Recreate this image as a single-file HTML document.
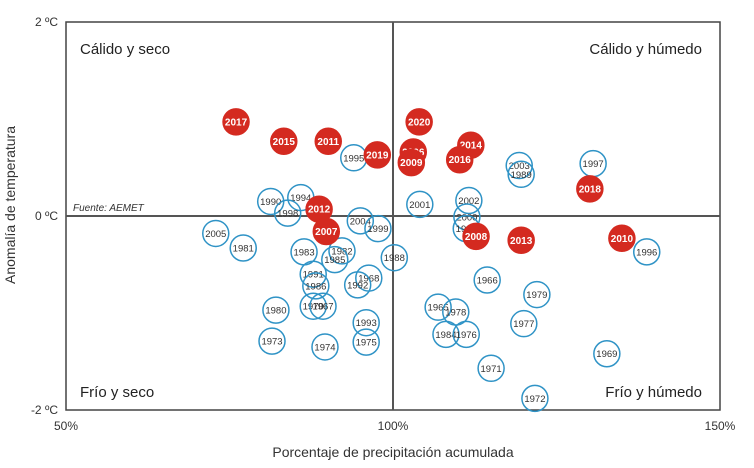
<!DOCTYPE html>
<html><head><meta charset="utf-8"><style>
body{margin:0;background:#fff;}
svg text{font-family:"Liberation Sans",sans-serif;}
</style></head><body>
<svg id="c" width="754" height="463">
<rect x="66" y="22" width="654" height="388" fill="none" stroke="#444" stroke-width="1.5"/>
<g id="marks"></g>
<text x="80" y="54" font-size="15" fill="#222">Cálido y seco</text>
<text x="702" y="54" font-size="15" fill="#222" text-anchor="end">Cálido y húmedo</text>
<text x="80" y="397" font-size="15" fill="#222">Frío y seco</text>
<text x="702" y="397" font-size="15" fill="#222" text-anchor="end">Frío y húmedo</text>
<text x="73" y="211" font-size="10" font-style="italic" fill="#333">Fuente: AEMET</text>
<text x="15" y="205" font-size="14" fill="#333" text-anchor="middle" transform="rotate(-90 15 205)">Anomalía de temperatura</text>
<text x="393" y="457" font-size="14" fill="#333" text-anchor="middle">Porcentaje de precipitación acumulada</text>
</svg>
<script>
const years=[2017,2015,2011,2019,1995,2020,2006,2009,2014,2016,2003,1989,1997,2018,1990,1994,1998,2012,2001,2002,2000,1987,2008,2013,2010,1996,2005,1981,2004,1999,2007,1983,1982,1985,1988,1991,1986,1968,1992,1966,1979,1980,1970,1967,1965,1978,1977,1993,1984,1976,1973,1974,1975,1969,1971,1972];
const precip=[76.0,83.3,90.1,97.6,94.0,104.0,103.1,102.8,111.9,110.2,119.3,119.6,130.6,130.1,81.3,85.9,83.9,88.7,104.1,111.6,111.3,111.2,112.7,119.6,135.0,138.8,72.9,77.1,95.0,97.7,89.8,86.4,92.2,91.1,100.2,87.8,88.2,96.3,94.6,114.4,122.0,82.1,87.8,89.3,106.9,109.6,120.0,95.9,108.1,111.2,81.5,89.6,95.9,132.7,115.0,121.7];
const anomaly=[0.97,0.77,0.77,0.63,0.60,0.97,0.66,0.55,0.73,0.58,0.52,0.43,0.54,0.28,0.15,0.19,0.03,0.07,0.12,0.16,-0.01,-0.13,-0.21,-0.25,-0.23,-0.37,-0.18,-0.33,-0.05,-0.13,-0.16,-0.37,-0.36,-0.45,-0.43,-0.60,-0.72,-0.64,-0.71,-0.66,-0.81,-0.97,-0.93,-0.93,-0.94,-0.99,-1.11,-1.10,-1.22,-1.22,-1.29,-1.35,-1.30,-1.42,-1.57,-1.88];
const redYears=[2017,2015,2011,2019,2020,2006,2009,2014,2016,2018,2012,2008,2013,2010,2007];
const xTicks=[50,100,150];
const xTickLabels=["50%","100%","150%"];
const yTicks=[2,0,-2];
const yTickLabels=["2 ºC","0 ºC","-2 ºC"];
const X0=66,X1=720,Y0=22,Y1=410;
const sx=p=>X0+(p-50)/100*(X1-X0);
const sy=t=>Y0+(2-t)/4*(Y1-Y0);
const NS="http://www.w3.org/2000/svg";
const svg=document.getElementById('c');
const g=document.getElementById('marks');
function mk(tag,a,parent){const e=document.createElementNS(NS,tag);for(const k in a)e.setAttribute(k,a[k]);(parent||g).appendChild(e);return e;}
// center axes
let l=mk('line',{x1:X0,x2:X1,y1:sy(0),y2:sy(0),stroke:'#555','stroke-width':2});


l=mk('line',{x1:sx(100),x2:sx(100),y1:Y0,y2:Y1,stroke:'#555','stroke-width':2});


xTicks.forEach((v,i)=>{const t=mk('text',{x:sx(v),y:430,'font-size':12,fill:'#333','text-anchor':'middle'},svg);t.textContent=xTickLabels[i];

});
yTicks.forEach((v,i)=>{const t=mk('text',{x:58,y:sy(v)+4,'font-size':12,fill:'#333','text-anchor':'end'},svg);t.textContent=yTickLabels[i];

});
const order=years.map((y,i)=>i).sort((a,b)=>redYears.includes(years[a])-redYears.includes(years[b]));
order.forEach(i=>{const red=redYears.includes(years[i]);const cx=sx(precip[i]),cy=sy(anomaly[i]);
const grp=mk('g',{});


mk('circle',{cx,cy,r:13,fill:red?'#d42a20':'none',stroke:red?'#d42a20':'#2f93c6','stroke-width':1.5},grp);
const t=mk('text',{x:cx,y:cy+3.5,'font-size':red?10:9.5,'font-weight':red?'bold':'normal',fill:red?'#fff':'#333','text-anchor':'middle'},grp);t.textContent=years[i];});
</script>
</body></html>
